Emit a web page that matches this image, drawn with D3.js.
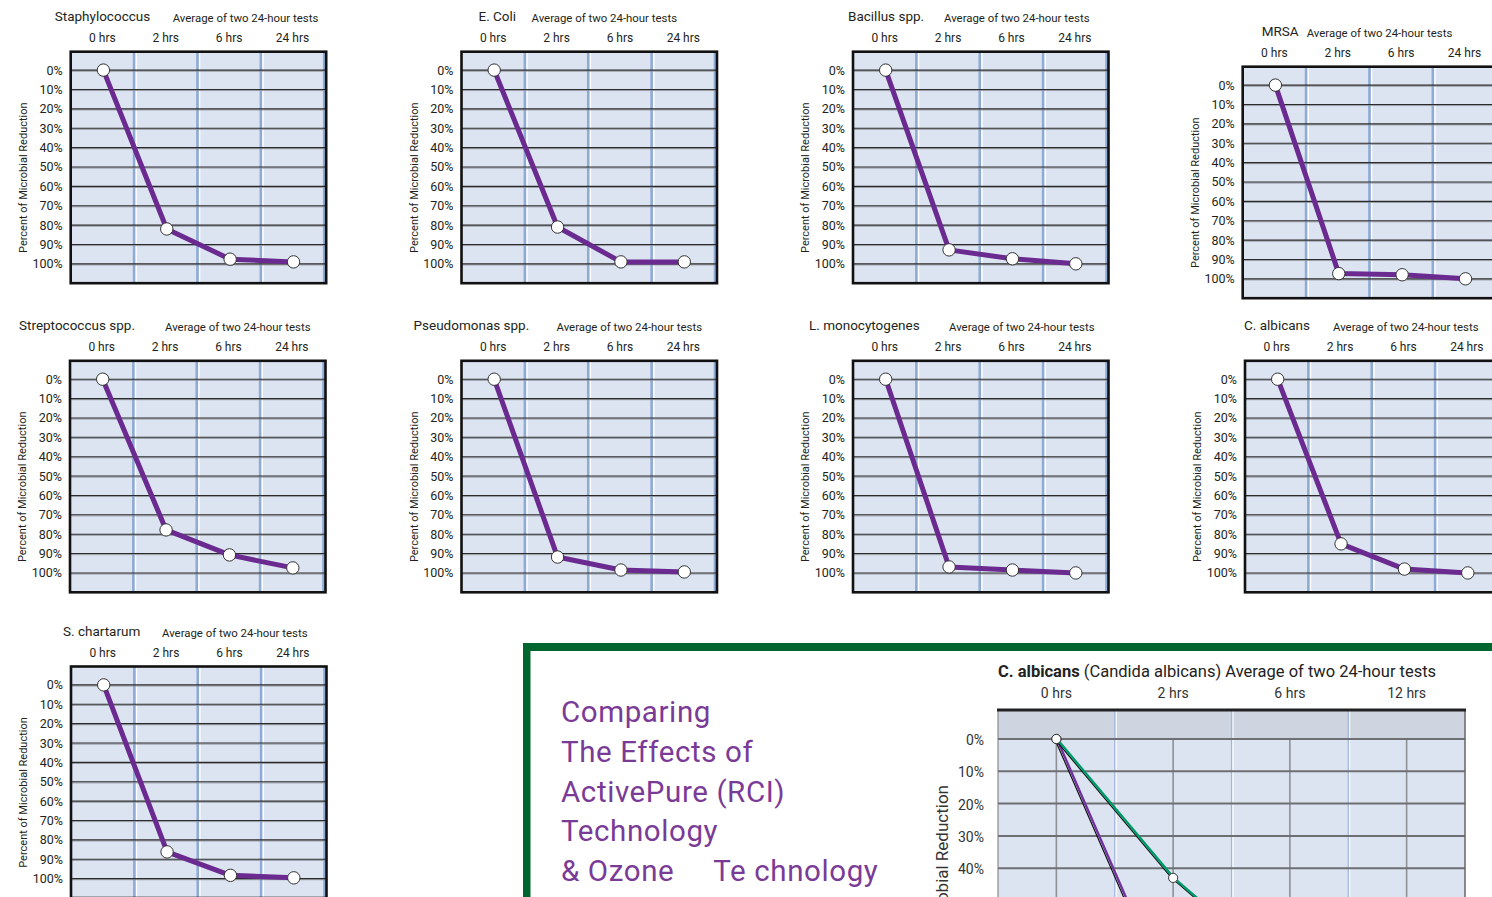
<!DOCTYPE html>
<html><head><meta charset="utf-8">
<script src="https://cdn.jsdelivr.net/npm/d3@7/dist/d3.min.js"></script>
<style>
body{margin:0;background:#fff;overflow:hidden}
svg{display:block}
text{font-family:Roboto,"Open Sans",sans-serif;fill:#231f20}
</style></head><body>
<svg id="c" width="1492" height="897"></svg>
<script>
// ---------- DATA ----------
const timeLabels = ["0 hrs", "2 hrs", "6 hrs", "24 hrs"];
const yTicks = [0, 10, 20, 30, 40, 50, 60, 70, 80, 90, 100];
const subtitle = "Average of two 24-hour tests";
const yTitle = "Percent of Microbial Reduction";

const organisms = ["Staphylococcus", "E. Coli", "Bacillus spp.", "MRSA",
  "Streptococcus spp.", "Pseudomonas spp.", "L. monocytogenes", "C. albicans", "S. chartarum"];
const staphylococcus = [0, 82, 97.6, 99];
const eColi = [0, 81, 99, 99];
const bacillus = [0, 92.8, 97.4, 100];
const mrsa = [0, 97.3, 97.9, 100];
const streptococcus = [0, 77.8, 90.7, 97.4];
const pseudomonas = [0, 91.8, 98.5, 99.5];
const lMonocytogenes = [0, 96.9, 98.5, 100];
const cAlbicans = [0, 85, 98, 100];
const sChartarum = [0, 86.2, 98.3, 99.6];
const seriesList = [staphylococcus, eColi, bacillus, mrsa, streptococcus, pseudomonas, lMonocytogenes, cAlbicans, sChartarum];

const panelLines = ["Comparing", "The Effects of", "ActivePure (RCI)", "Technology", "& Ozone     Te chnology"];
const bigTitleBold = "C. albicans";
const bigTitleRest = " (Candida albicans) Average of two 24-hour tests";
const bigTimeLabels = ["0 hrs", "2 hrs", "6 hrs", "12 hrs"];
const bigYTicks = [0, 10, 20, 30, 40, 50, 60, 70, 80, 90, 100];
const activePure = [0, 83, 97, 99];
const ozone = [0, 43, 74, 93];

// ---------- LAYOUT (frame origin, title / subtitle offsets) ----------
const layout = [
  {x: 70.7, y: 51.7, tx: -16, sx: 102},
  {x: 461.5, y: 51.7, tx: 17, sx: 70},
  {x: 853, y: 51.7, tx: -5, sx: 91},
  {x: 1242.7, y: 66.7, tx: 19, sx: 64},
  {x: 70, y: 360.8, tx: -51, sx: 95},
  {x: 461.5, y: 360.8, tx: -48, sx: 95},
  {x: 853, y: 360.8, tx: -44, sx: 96},
  {x: 1245, y: 360.8, tx: -1, sx: 88},
  {x: 71, y: 666.5, tx: -8, sx: 91}
];

const svg = d3.select("#c");
const VIEW_H = 897;

function smallChart(name, values, lay) {
  const W = 255.5, H = 231.5;
  const g = svg.append("g").attr("transform", `translate(${lay.x},${lay.y})`);
  const x = d3.scaleBand().domain(timeLabels).range([0, 253.5]);
  const y = d3.scaleLinear().domain([-9.5, 110]).range([0, H]);
  const cx = t => x(t) + x.bandwidth() / 2 + 1;

  g.append("rect").attr("width", W).attr("height", H).attr("fill", "#dce4f1");
  timeLabels.forEach(t => {
    const xv = x(t) + x.bandwidth();
    g.append("line").attr("x1", xv).attr("x2", xv).attr("y1", 0).attr("y2", H)
      .attr("stroke", "#8eaad6").attr("stroke-width", 2.6);
    g.append("line").attr("x1", xv + 2.2).attr("x2", xv + 2.2).attr("y1", 0).attr("y2", H)
      .attr("stroke", "#ffffff").attr("stroke-width", 1.3);
  });
  yTicks.forEach(v => {
    g.append("line").attr("x1", 0).attr("x2", W).attr("y1", y(v) + 1.1).attr("y2", y(v) + 1.1)
      .attr("stroke", "#8d939c").attr("stroke-width", 0.9);
    g.append("line").attr("x1", 0).attr("x2", W).attr("y1", y(v)).attr("y2", y(v))
      .attr("stroke", "#2b2b2b").attr("stroke-width", 1.1);
  });
  g.append("rect").attr("width", W).attr("height", H).attr("fill", "none")
    .attr("stroke", "#111").attr("stroke-width", 2.6);

  g.selectAll(".yl").data(yTicks).join("text")
    .attr("x", -8).attr("y", d => y(d) + 4.5).attr("text-anchor", "end")
    .attr("font-size", 12.5).text(d => d + "%");
  g.append("text").attr("transform", `translate(-44,126) rotate(-90)`)
    .attr("text-anchor", "middle").attr("font-size", 11).text(yTitle);
  g.selectAll(".xl").data(timeLabels).join("text")
    .attr("x", d => cx(d) - 1).attr("y", -10).attr("text-anchor", "middle")
    .attr("font-size", 12).text(d => d);
  g.append("text").attr("x", lay.tx).attr("y", -30.5).attr("font-size", 13.5).text(name);
  g.append("text").attr("x", lay.sx).attr("y", -30).attr("font-size", 11.4).text(subtitle);

  const pts = timeLabels.map((t, i) => ({t, v: values[i]}));
  g.append("path").datum(pts)
    .attr("d", d3.line().x(d => cx(d.t)).y(d => y(d.v)))
    .attr("fill", "none").attr("stroke", "#6b2a90").attr("stroke-width", 5)
    .attr("stroke-linejoin", "round");
  g.selectAll("circle").data(pts).join("circle")
    .attr("cx", d => cx(d.t)).attr("cy", d => y(d.v)).attr("r", 6.2)
    .attr("fill", "#fff").attr("stroke", "#333").attr("stroke-width", 1);
}

organisms.forEach((n, i) => smallChart(n, seriesList[i], layout[i]));

// ---------- Bottom-right panel ----------
const green = "#00652e";
svg.append("rect").attr("x", 523).attr("y", 643).attr("width", 1492 - 523).attr("height", 8).attr("fill", green);
svg.append("rect").attr("x", 523).attr("y", 643).attr("width", 7.5).attr("height", VIEW_H - 643).attr("fill", green);

svg.append("g").selectAll("text").data(panelLines).join("text")
  .attr("x", 561).attr("y", (d, i) => 722 + i * 39.75)
  .attr("font-size", 29.5).attr("letter-spacing", 0.6)
  .style("white-space", "pre").style("fill", "#7a3b97").text(d => d);

// big chart
const bx = d3.scaleBand().domain(bigTimeLabels).range([998, 1465]);
const by = d3.scaleLinear().domain([0, 100]).range([739, 1062]);
const bTop = 710;
const bc = t => bx(t) + bx.bandwidth() / 2;
const big = svg.append("g");
big.append("rect").attr("x", 998).attr("y", bTop).attr("width", 467).attr("height", by(0) - bTop).attr("fill", "#ced5e1");
big.append("rect").attr("x", 998).attr("y", by(0)).attr("width", 467).attr("height", VIEW_H - by(0)).attr("fill", "#dde4f1");
bigTimeLabels.forEach((t, i) => {
  if (i > 0) {
    const xv = bx(t);
    big.append("line").attr("x1", xv).attr("x2", xv).attr("y1", bTop).attr("y2", VIEW_H)
      .attr("stroke", "#9fb5dc").attr("stroke-width", 1.2);
    big.append("line").attr("x1", xv + 1.5).attr("x2", xv + 1.5).attr("y1", bTop).attr("y2", VIEW_H)
      .attr("stroke", "#fff").attr("stroke-width", 1);
  }
  big.append("line").attr("x1", bc(t)).attr("x2", bc(t)).attr("y1", by(0)).attr("y2", VIEW_H)
    .attr("stroke", "#8e9096").attr("stroke-width", 1.6);
});
bigYTicks.filter(v => by(v) <= VIEW_H).forEach(v => {
  big.append("line").attr("x1", 998).attr("x2", 1465).attr("y1", by(v)).attr("y2", by(v))
    .attr("stroke", "#6d6f73").attr("stroke-width", 2);
});
big.append("line").attr("x1", 998).attr("x2", 998).attr("y1", bTop).attr("y2", VIEW_H).attr("stroke", "#777").attr("stroke-width", 1);
big.append("line").attr("x1", 1465).attr("x2", 1465).attr("y1", bTop).attr("y2", VIEW_H).attr("stroke", "#666").attr("stroke-width", 1.5);
big.append("line").attr("x1", 997).attr("x2", 1466).attr("y1", bTop).attr("y2", bTop).attr("stroke", "#222").attr("stroke-width", 3);

// only the tick labels that fall inside the visible page
big.selectAll(".byl").data(bigYTicks.filter(v => by(v) + 6 <= VIEW_H)).join("text")
  .attr("x", 984).attr("y", d => by(d) + 6).attr("text-anchor", "end")
  .attr("font-size", 14).style("fill", "#333").text(d => d + "%");
big.selectAll(".bxl").data(bigTimeLabels).join("text")
  .attr("x", d => bc(d)).attr("y", 698).attr("text-anchor", "middle")
  .attr("font-size", 14).style("fill", "#333").text(d => d);
const bt = big.append("text").attr("x", 998).attr("y", 677).attr("font-size", 16.5).style("fill", "#222");
bt.append("tspan").attr("font-weight", "bold").text(bigTitleBold);
bt.append("tspan").text(bigTitleRest);
big.append("text").attr("transform", "translate(948,785) rotate(-90)")
  .attr("text-anchor", "end").attr("font-size", 17).style("fill", "#333").text(yTitle);

function bigSeries(values, color) {
  const pts = bigTimeLabels.map((t, i) => ({t, v: values[i]}));
  const line = d3.line().x(d => bc(d.t)).y(d => by(d.v));
  big.append("path").datum(pts).attr("d", line).attr("transform", "translate(-1.6,0)")
    .attr("fill", "none").attr("stroke", "#111").attr("stroke-width", 1.2);
  big.append("path").datum(pts).attr("d", line).attr("transform", "translate(0.6,0)")
    .attr("fill", "none").attr("stroke", color).attr("stroke-width", 2.4);
  return pts;
}
const p1 = bigSeries(activePure, "#7132a0");
const p2 = bigSeries(ozone, "#009a6a");
big.selectAll(".bp").data(p2.concat(p1)).join("circle")
  .attr("cx", d => bc(d.t)).attr("cy", d => by(d.v)).attr("r", 4.6)
  .attr("fill", "#fff").attr("stroke", "#333").attr("stroke-width", 1);
</script>
</body></html>
